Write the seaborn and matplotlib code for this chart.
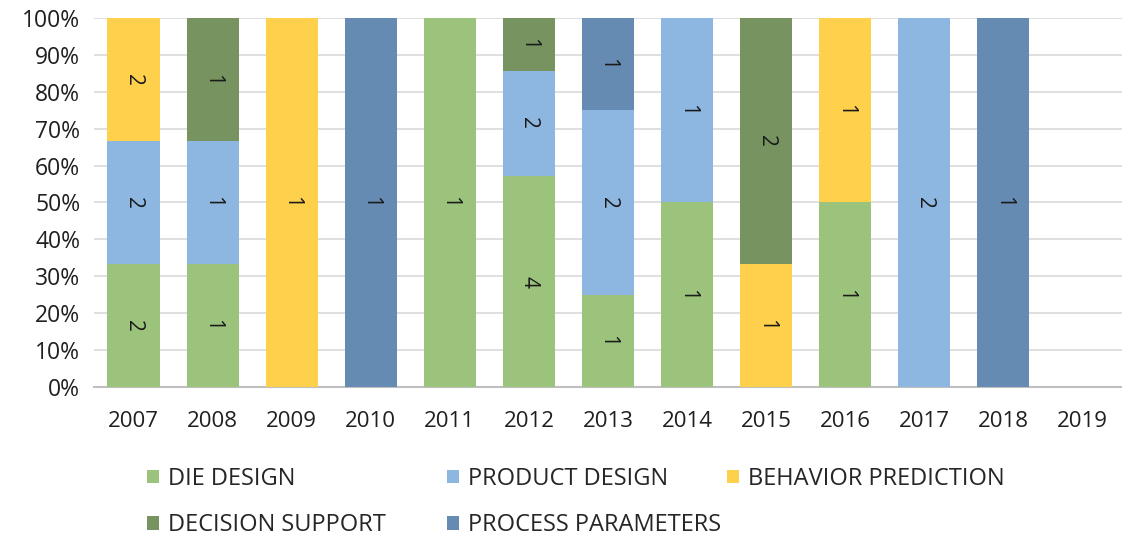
import numpy as np
import pandas as pd
import matplotlib
matplotlib.use("Agg")
import matplotlib.pyplot as plt
from matplotlib.patches import Patch
import seaborn as sns

years = ["2007", "2008", "2009", "2010", "2011", "2012", "2013",
         "2014", "2015", "2016", "2017", "2018", "2019"]
die_design = [2, 1, 0, 0, 1, 4, 1, 1, 0, 1, 0, 0, 0]
product_design = [2, 1, 0, 0, 0, 2, 2, 1, 0, 0, 2, 0, 0]
behavior_prediction = [2, 0, 1, 0, 0, 0, 0, 0, 1, 1, 0, 0, 0]
decision_support = [0, 1, 0, 0, 0, 1, 0, 0, 2, 0, 0, 0, 0]
process_parameters = [0, 0, 0, 1, 0, 0, 1, 0, 0, 0, 0, 1, 0]

series_names = ["DIE DESIGN", "PRODUCT DESIGN", "BEHAVIOR PREDICTION",
                "DECISION SUPPORT", "PROCESS PARAMETERS"]
series_values = [die_design, product_design, behavior_prediction,
                 decision_support, process_parameters]
colors = ["#9CC37C", "#8DB6E0", "#FFD04B", "#77935F", "#658BB3"]

sns.set_theme(style="white")
plt.rcParams["font.family"] = ["Open Sans", "DejaVu Sans"]

counts = np.array(series_values, dtype=float)
totals = counts.sum(axis=0)
safe_totals = np.where(totals == 0, 1, totals)
shares = counts / safe_totals * 100

fig = plt.figure(figsize=(11.22, 5.41), dpi=100)
ax = fig.add_axes([0.0838, 0.2847, 0.9162, 0.682])

bottom = np.zeros(len(years))
for name, vals, pct, col in zip(series_names, series_values, shares, colors):
    df = pd.DataFrame({"year": years, "pct": pct})
    sns.barplot(data=df, x="year", y="pct", order=years, color=col,
                width=0.66, bottom=bottom.copy(), ax=ax, errorbar=None,
                saturation=1, linewidth=0, zorder=3)
    for i, (v, p) in enumerate(zip(vals, pct)):
        if v > 0:
            ax.text(i, bottom[i] + p / 2, str(v), rotation=-90,
                    ha="center", va="center", fontsize=15,
                    color="#1a1a1a", zorder=4)
    bottom += pct

ax.set_xlim(-0.5, len(years) - 0.5)
ax.set_ylim(0, 100)
ax.set_yticks(np.arange(0, 101, 10))
ax.set_yticklabels([f"{t}%" for t in range(0, 101, 10)])
ax.yaxis.grid(True, color="#D9D9D9", linewidth=1.2, zorder=0)
ax.set_axisbelow(True)
ax.set_xlabel("")
ax.set_ylabel("")

for side in ["top", "right", "left"]:
    ax.spines[side].set_visible(False)
ax.spines["bottom"].set_color("#BFBFBF")
ax.spines["bottom"].set_linewidth(1.5)

ax.set_xticks(np.arange(len(years)))
ax.set_xticklabels(years)
ax.set_xticks(np.arange(-0.5, len(years), 1), minor=True)
ax.tick_params(axis="x", which="major", length=0, pad=17, labelsize=16,
               labelcolor="#1f1f1f")
ax.tick_params(axis="x", which="minor", length=7, width=1.5,
               color="#BFBFBF", direction="out")
ax.tick_params(axis="y", length=0, pad=10, labelsize=16.5, labelcolor="#1f1f1f")

# Legend laid out as three fixed-position columns (rows: 3 items, then 2)
handles = [Patch(facecolor=c, edgecolor="none", label=n)
           for n, c in zip(series_names, colors)]
legend_columns = [[0, 3], [1, 4], [2]]
column_x = [147, 447, 727]
for idxs, x0 in zip(legend_columns, column_x):
    leg = fig.legend([handles[i] for i in idxs], [series_names[i] for i in idxs],
                     loc="upper left", bbox_to_anchor=(x0 / 1122, 0.137),
                     frameon=False, fontsize=17, handlelength=0.5,
                     handleheight=0.5, handletextpad=0.4, labelspacing=0.95,
                     borderaxespad=0, borderpad=0)

fig.savefig("out.png", dpi=100)
